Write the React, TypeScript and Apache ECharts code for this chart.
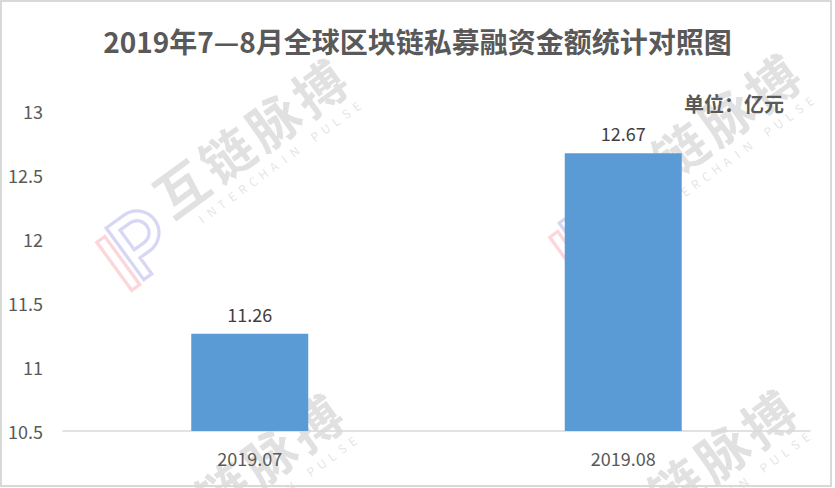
import React, { useEffect, useRef } from "react";
import * as echarts from "echarts";

const titleText = "2019年7—8月全球区块链私募融资金额统计对照图";
const unitText = "单位：亿元";
const categories = ["2019.07", "2019.08"];
const amounts = [11.26, 12.67];
const yMin = 10.5;
const yMax = 13;
const yStep = 0.5;

const wmChars = ["互", "链", "脉", "搏"];
const wmSub = "INTERCHAIN PULSE".split("");
const wmOrigins = [
  [159, 202],
  [612, 197],
  [155, 537],
  [608, 533],
];

const FONT = "'Noto Sans CJK SC', 'Noto Sans', sans-serif";

echarts.graphic.registerShape(
  "wmP",
  echarts.graphic.extendPath(
    "M0 58 L0 0 L20 0 A20 20 0 0 1 20 40 L9 40 L9 58 Z M9 9 L20 9 A11 11 0 0 1 20 31 L9 31 Z",
    {}
  )
);
echarts.graphic.registerShape(
  "wmI",
  echarts.graphic.extendPath("M0 0 L9 0 L9 54 L0 54 Z", {})
);

function watermark(ox: number, oy: number) {
  const gray = "rgba(90,90,90,0.18)";
  const children: any[] = [];
  wmChars.forEach((c, i) => {
    children.push({
      type: "text",
      x: 26 + i * 57,
      y: 0,
      style: {
        text: c,
        fontSize: 52,
        fontWeight: "bold",
        fontFamily: FONT,
        fill: gray,
        align: "center",
        verticalAlign: "middle",
      },
    });
  });
  wmSub.forEach((c, i) => {
    children.push({
      type: "text",
      x: 24 + i * 12.8,
      y: 38,
      style: {
        text: c,
        fontSize: 12,
        fontFamily: FONT,
        fill: gray,
        align: "center",
        verticalAlign: "middle",
      },
    });
  });
  children.push({
    type: "wmI",
    x: -74,
    y: -4,
    scaleX: 1.1,
    scaleY: 1.1,
    style: { fill: "none", stroke: "rgba(240,90,110,0.25)", lineWidth: 3 },
  });
  children.push({
    type: "wmP",
    x: -58,
    y: -10,
    scaleX: 1.1,
    scaleY: 1.1,
    style: { fill: "none", stroke: "rgba(100,100,215,0.26)", lineWidth: 3 },
  });
  return {
    type: "group",
    x: ox,
    y: oy,
    rotation: (36 * Math.PI) / 180,
    z: 100,
    silent: true,
    children,
  };
}

export default function App() {
  const ref = useRef<HTMLDivElement>(null);
  useEffect(() => {
    if (!ref.current) return;
    const chart = echarts.init(ref.current, undefined, { renderer: "svg" });
    chart.setOption({
      animation: false,
      backgroundColor: "#ffffff",
      title: {
        text: titleText,
        left: "center",
        top: 27,
        padding: 0,
        textStyle: {
          fontSize: 28,
          fontWeight: "bold",
          color: "#595959",
          fontFamily: FONT,
        },
      },
      grid: { left: 63, right: 25, top: 111, bottom: 57, containLabel: false },
      xAxis: {
        type: "category",
        data: categories,
        axisTick: { show: false },
        axisLine: { lineStyle: { color: "#d9d9d9", width: 1.5 } },
        axisLabel: {
          color: "#595959",
          fontSize: 18,
          fontFamily: FONT,
          margin: 18,
        },
      },
      yAxis: {
        type: "value",
        min: yMin,
        max: yMax,
        interval: yStep,
        splitLine: { show: false },
        axisLine: { show: false },
        axisTick: { show: false },
        axisLabel: {
          color: "#595959",
          fontSize: 18,
          fontFamily: FONT,
          margin: 20,
        },
      },
      series: [
        {
          type: "bar",
          data: amounts,
          barWidth: 117,
          itemStyle: { color: "#5B9BD5" },
          label: {
            show: true,
            position: "top",
            distance: 11,
            color: "#404040",
            fontSize: 18,
            fontFamily: FONT,
          },
        },
      ],
      graphic: [
        {
          type: "rect",
          shape: { x: 1, y: 1, width: 830, height: 485 },
          style: { fill: "none", stroke: "#d9d9d9", lineWidth: 2 },
          z: 120,
          silent: true,
        },
        {
          type: "text",
          x: 784,
          y: 103,
          z: 50,
          style: {
            text: unitText,
            fontSize: 20,
            fontWeight: "bold",
            fontFamily: FONT,
            fill: "#595959",
            align: "right",
            verticalAlign: "middle",
          },
        },
        ...wmOrigins.map(([x, y]) => watermark(x, y)),
      ],
    });
    return () => chart.dispose();
  }, []);
  return (
    <div
      ref={ref}
      style={{ position: "absolute", left: 0, top: 0, width: 835, height: 488 }}
    />
  );
}
